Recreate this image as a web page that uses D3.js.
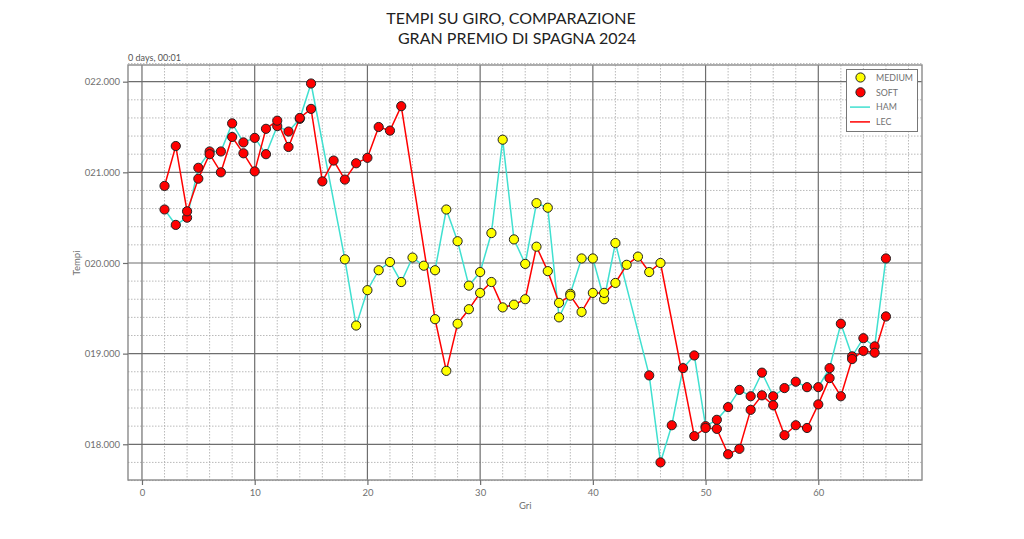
<!DOCTYPE html>
<html>
<head>
<meta charset="utf-8">
<script src="https://cdn.jsdelivr.net/npm/d3@7"></script>
<style>
  body { margin: 0; background: #fff; }
  text { font-family: Lato, "Open Sans", sans-serif; }
</style>
</head>
<body>
<div id="chart"></div>
<script>
// lap times in seconds (offset label "0 days, 00:01" = +60s)
const hamLaps = [2,3,4,5,6,7,8,9,10,11,12,13,14,15,
  18,19,20,21,22,23,24,25,26,27,28,29,30,31,32,33,34,35,36,37,38,39,40,41,42,
  45,46,47,48,49,50,51,52,53,54,55,56,57,58,59,60,61,62,63,64,65,66];
const hamTimes = [80.59,80.42,80.50,81.05,81.23,81.23,81.54,81.33,81.38,81.20,81.51,81.45,81.59,81.98,
  80.04,79.31,79.70,79.92,80.01,79.79,80.06,79.97,79.92,80.59,80.24,79.75,79.90,80.33,81.36,80.26,79.99,80.66,80.61,79.40,79.66,80.05,80.05,79.60,80.22,
  78.76,77.80,78.21,78.84,78.98,78.20,78.27,78.41,78.60,78.53,78.79,78.53,78.62,78.69,78.63,78.63,78.84,79.33,78.97,79.17,79.08,80.05];
const hamCompound = hamLaps.map(l => (l >= 18 && l <= 42) ? 'MEDIUM' : 'SOFT');

const lecLaps = [2,3,4,5,6,7,8,9,10,11,12,13,14,15,16,17,18,19,20,21,22,23,
  26,27,28,29,30,31,32,33,34,35,36,37,38,39,40,41,42,43,44,45,46,
  49,50,51,52,53,54,55,56,57,58,59,60,61,62,63,64,65,66];
const lecTimes = [80.85,81.29,80.57,80.93,81.20,81.00,81.39,81.21,81.01,81.48,81.57,81.28,81.60,81.70,80.90,81.13,80.92,81.10,81.16,81.50,81.46,81.73,
  79.38,78.81,79.33,79.49,79.67,79.79,79.51,79.54,79.60,80.18,79.91,79.56,79.64,79.46,79.67,79.67,79.78,79.98,80.07,79.90,80.00,
  78.09,78.18,78.17,77.89,77.95,78.38,78.54,78.43,78.10,78.21,78.18,78.44,78.73,78.53,78.94,79.03,79.01,79.41];
const lecCompound = lecLaps.map(l => (l >= 26 && l <= 46) ? 'MEDIUM' : 'SOFT');

const compoundColor = {MEDIUM: '#ffff00', SOFT: '#ff0000'};
const driverColor = {HAM: '#40e0d0', LEC: '#ff0000'};

const xTicks = [0,10,20,30,40,50,60];
const yTicks = [78,79,80,81,82];

const totalW = 1024, totalH = 539;
const plot = {left: 128, right: 922, top: 65, bottom: 480};

const svg = d3.select('#chart').append('svg')
  .attr('width', totalW)
  .attr('height', totalH);

const x = d3.scaleLinear().domain([-1.24, 69.2]).range([plot.left, plot.right]);
const y = d3.scaleLinear().domain([77.606, 82.184]).range([plot.bottom, plot.top]);

// minor grid (dashed)
const g = svg.append('g');
const xMinor = d3.range(-0, 70, 2).filter(v => v % 10 !== 0);
const yMinor = d3.range(77.6, 82.2, 0.2).map(v => +v.toFixed(1)).filter(v => Math.abs(v - Math.round(v)) > 0.01);
g.selectAll('.xminor').data(xMinor).enter().append('line')
  .attr('x1', d => x(d)).attr('x2', d => x(d))
  .attr('y1', plot.top).attr('y2', plot.bottom)
  .attr('stroke', '#a8a8a8').attr('stroke-width', 0.8).attr('stroke-dasharray', '1.5,1.5');
g.selectAll('.yminor').data(yMinor).enter().append('line')
  .attr('y1', d => y(d)).attr('y2', d => y(d))
  .attr('x1', plot.left).attr('x2', plot.right)
  .attr('stroke', '#a8a8a8').attr('stroke-width', 0.8).attr('stroke-dasharray', '1.5,1.5');

// major grid
g.selectAll('.xmajor').data(xTicks).enter().append('line')
  .attr('x1', d => x(d)).attr('x2', d => x(d))
  .attr('y1', plot.top).attr('y2', plot.bottom)
  .attr('stroke', '#6e6e6e').attr('stroke-width', 1.2);
g.selectAll('.ymajor').data(yTicks).enter().append('line')
  .attr('y1', d => y(d)).attr('y2', d => y(d))
  .attr('x1', plot.left).attr('x2', plot.right)
  .attr('stroke', '#6e6e6e').attr('stroke-width', 1.2);

// frame
svg.append('rect')
  .attr('x', plot.left).attr('y', plot.top)
  .attr('width', plot.right - plot.left).attr('height', plot.bottom - plot.top)
  .attr('fill', 'none').attr('stroke', '#8a8a8a').attr('stroke-width', 1.4);

// axes
const fmtY = v => d3.format('07.3f')(v - 60);
const xAxis = svg.append('g')
  .attr('transform', 'translate(0,' + plot.bottom + ')')
  .call(d3.axisBottom(x).tickValues(xTicks).tickSize(5).tickPadding(4).tickFormat(d3.format('d')));
const yAxis = svg.append('g')
  .attr('transform', 'translate(' + plot.left + ',0)')
  .call(d3.axisLeft(y).tickValues(yTicks).tickSize(5).tickPadding(3).tickFormat(fmtY));
[xAxis, yAxis].forEach(a => {
  a.select('.domain').remove();
  a.selectAll('.tick line').attr('stroke', '#6e6e6e').attr('stroke-width', 1.2);
  a.selectAll('.tick text').attr('fill', '#707070').attr('font-size', 9.5)
    .attr('font-family', 'Lato, sans-serif');
});

svg.append('text')
  .attr('x', plot.left).attr('y', 61)
  .attr('font-size', 9).attr('fill', '#555')
  .text('0 days, 00:01');

svg.append('text')
  .attr('x', x(34)).attr('y', 509)
  .attr('text-anchor', 'middle').attr('font-size', 9.5).attr('fill', '#707070')
  .text('Gri');

svg.append('text')
  .attr('transform', 'translate(80,' + y(80) + ') rotate(-90)')
  .attr('text-anchor', 'middle').attr('font-size', 9.5).attr('fill', '#707070')
  .text('Tempi');

// title
svg.append('text')
  .attr('x', 511).attr('y', 24)
  .attr('text-anchor', 'middle').attr('font-size', 16).attr('fill', '#222')
  .text('TEMPI SU GIRO, COMPARAZIONE');
svg.append('text')
  .attr('x', 517).attr('y', 44)
  .attr('text-anchor', 'middle').attr('font-size', 16).attr('fill', '#222')
  .text('GRAN PREMIO DI SPAGNA 2024');

// lines
const line = d3.line().x(d => x(d[0])).y(d => y(d[1]));
const series = [
  {name: 'HAM', laps: hamLaps, times: hamTimes, comp: hamCompound},
  {name: 'LEC', laps: lecLaps, times: lecTimes, comp: lecCompound}
];
series.forEach(s => {
  svg.append('path')
    .datum(s.laps.map((l, i) => [l, s.times[i]]))
    .attr('d', line)
    .attr('fill', 'none')
    .attr('stroke', driverColor[s.name])
    .attr('stroke-width', 1.5);
});
series.forEach(s => {
  svg.append('g').selectAll('circle')
    .data(s.laps.map((l, i) => ({lap: l, t: s.times[i], c: s.comp[i]})))
    .enter().append('circle')
      .attr('cx', d => x(d.lap))
      .attr('cy', d => y(d.t))
      .attr('r', 4.6)
      .attr('fill', d => compoundColor[d.c])
      .attr('stroke', '#222')
      .attr('stroke-width', 1);
});

// legend
const leg = svg.append('g');
leg.append('rect')
  .attr('x', 846.5).attr('y', 69.5).attr('width', 71).attr('height', 62)
  .attr('fill', '#fff').attr('stroke', '#777').attr('stroke-width', 1);
const legItems = [
  {label: 'MEDIUM', type: 'dot', color: compoundColor.MEDIUM},
  {label: 'SOFT', type: 'dot', color: compoundColor.SOFT},
  {label: 'HAM', type: 'line', color: driverColor.HAM},
  {label: 'LEC', type: 'line', color: driverColor.LEC}
];
legItems.forEach((it, i) => {
  const cy = 77.5 + i * 14.8;
  if (it.type === 'dot') {
    leg.append('circle').attr('cx', 860.5).attr('cy', cy).attr('r', 4.6)
      .attr('fill', it.color).attr('stroke', '#222').attr('stroke-width', 1);
  } else {
    leg.append('line').attr('x1', 850).attr('x2', 870).attr('y1', cy).attr('y2', cy)
      .attr('stroke', it.color).attr('stroke-width', 1.5);
  }
  leg.append('text').attr('x', 876).attr('y', cy + 3.3)
    .attr('font-size', 8.8).attr('fill', '#707070').text(it.label);
});
</script>
</body>
</html>
